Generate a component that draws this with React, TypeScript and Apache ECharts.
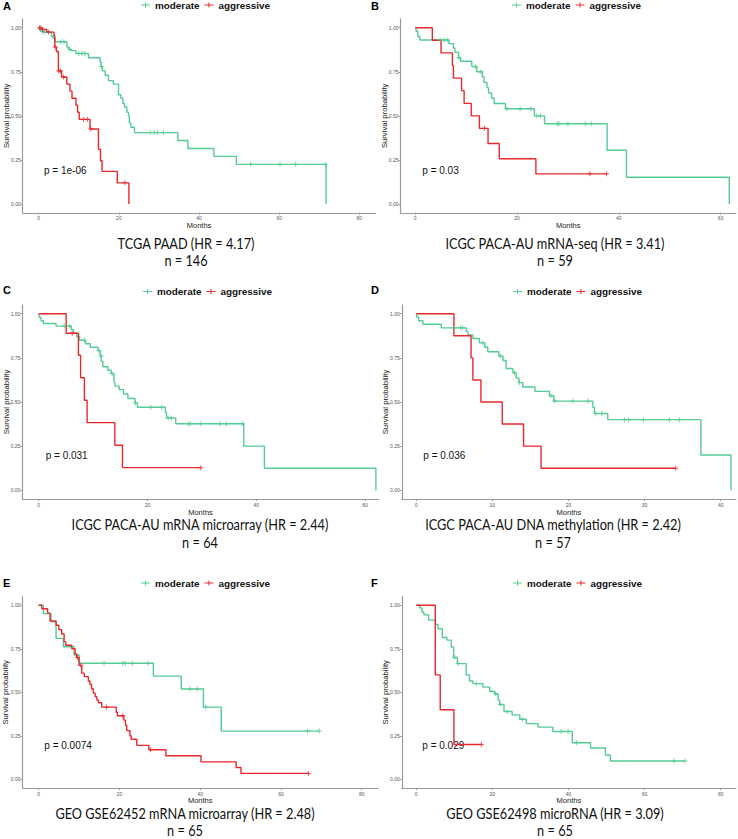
import React, { useEffect, useRef } from "react";
import * as echarts from "echarts";

const GREEN = "#55CC95";
const RED = "#E8292C";
const seriesNames = ["moderate", "aggressive"];
const yTicks = [0, 0.25, 0.5, 0.75, 1];

// ---------- A: TCGA PAAD ----------
const aTicks = [0, 20, 40, 60, 80];
const aModerate = [[0,1],[0.3,0.99],[0.8,0.98],[1.2,0.974],[3.2,0.95],[3.7,0.94],[4.1,0.92],[7.0,0.89],[7.5,0.877],[8.1,0.87],[9.3,0.854],[12.4,0.83],[15.3,0.805],[15.6,0.78],[15.9,0.755],[16.6,0.73],[17.4,0.70],[18.6,0.68],[19.9,0.62],[20.5,0.60],[21.0,0.57],[21.4,0.55],[22.0,0.52],[22.4,0.50],[22.6,0.46],[23.0,0.435],[23.9,0.405],[34.7,0.36],[37.2,0.315],[43.7,0.27],[49.3,0.225],[71.7,0.0]];
const aModerateCensor = [[0.5,0.99],[0.9,0.98],[1.5,0.974],[5.5,0.92],[6.3,0.92],[7.7,0.877],[10.0,0.854],[10.8,0.854],[11.5,0.854],[15.6,0.78],[27.8,0.405],[28.8,0.405],[29.6,0.405],[31.1,0.405],[52.9,0.225],[60.2,0.225],[64.1,0.225],[71.5,0.225]];
const aAggressive = [[0,1],[0.8,0.99],[2.0,0.975],[3.8,0.955],[4.0,0.89],[4.4,0.865],[4.9,0.755],[5.7,0.72],[7.0,0.68],[7.8,0.64],[8.3,0.60],[9.3,0.56],[9.7,0.52],[10.1,0.48],[12.8,0.425],[14.9,0.31],[15.4,0.245],[15.8,0.185],[19.6,0.12],[22.5,0.0]];
const aAggressiveCensor = [[0.2,1],[0.5,1],[1.0,0.99],[2.4,0.975],[4.1,0.89],[5.0,0.755],[5.4,0.755],[6.2,0.72],[11.2,0.48],[12.1,0.48],[13.0,0.425],[21.5,0.12]];

// ---------- B: ICGC PACA-AU mRNA-seq ----------
const bTicks = [0, 20, 40, 60];
const bModerate = [[0,1],[0.15,0.98],[0.5,0.95],[0.9,0.93],[6.6,0.91],[7.5,0.885],[7.8,0.86],[8.5,0.83],[8.9,0.81],[11.1,0.78],[12.1,0.75],[13.2,0.72],[13.5,0.69],[14.1,0.66],[14.4,0.63],[15.0,0.60],[15.5,0.57],[17.7,0.54],[23.4,0.50],[25.4,0.455],[37.7,0.305],[41.5,0.152],[61.7,0.0]];
const bModerateCensor = [[4.9,0.93],[5.65,0.93],[6.3,0.93],[8.6,0.83],[11.8,0.78],[12.9,0.75],[18.0,0.54],[20.6,0.54],[22.7,0.54],[23.9,0.50],[24.6,0.50],[27.9,0.455],[28.2,0.455],[30.0,0.455],[33.4,0.455],[34.6,0.455]];
const bAggressive = [[0,1],[3.35,0.929],[5.06,0.857],[7.3,0.786],[7.5,0.714],[9.1,0.643],[9.6,0.571],[11.0,0.50],[12.6,0.429],[14.3,0.343],[16.5,0.257],[23.7,0.171],[37.6,0.171]];
const bAggressiveCensor = [[13.6,0.429],[34.3,0.171],[37.6,0.171]];

// ---------- C: ICGC PACA-AU mRNA microarray ----------
const cTicks = [0, 20, 40, 60];
const cModerate = [[0,1],[0.12,0.98],[0.43,0.96],[0.86,0.945],[3.2,0.93],[6.0,0.91],[6.4,0.89],[7.0,0.87],[7.5,0.85],[8.6,0.83],[9.5,0.81],[10.9,0.79],[11.3,0.76],[11.5,0.73],[11.8,0.70],[12.7,0.68],[13.35,0.66],[13.85,0.61],[14.0,0.59],[14.8,0.57],[15.6,0.545],[16.4,0.52],[17.7,0.495],[18.15,0.47],[23.3,0.44],[23.5,0.41],[25.2,0.377],[37.7,0.25],[41.5,0.125],[62,0]];
const cModerateCensor = [[4.7,0.93],[5.7,0.93],[8.4,0.85],[11.1,0.79],[11.5,0.76],[13.5,0.66],[17.8,0.495],[20.6,0.47],[22.6,0.47],[23.8,0.41],[24.4,0.41],[27.5,0.377],[27.9,0.377],[29.8,0.377],[33.35,0.377],[34.5,0.377],[37.5,0.377]];
const cAggressive = [[0,1],[5.05,0.889],[7.3,0.765],[7.7,0.637],[8.4,0.51],[8.9,0.383],[14.0,0.255],[15.4,0.128],[29.8,0.128]];
const cAggressiveCensor = [[6.15,0.889],[29.8,0.128]];

// ---------- D: ICGC PACA-AU DNA methylation ----------
const dTicks = [0, 10, 20, 30, 40];
const dModerate = [[0,1],[0.09,0.98],[0.31,0.96],[0.88,0.94],[3.28,0.92],[6.56,0.90],[6.8,0.88],[7.44,0.86],[8.3,0.835],[9.0,0.81],[9.4,0.785],[10.85,0.76],[11.4,0.735],[11.8,0.69],[12.7,0.665],[13.13,0.635],[13.5,0.61],[14.0,0.585],[15.6,0.56],[17.5,0.535],[18.07,0.505],[23.2,0.47],[23.4,0.435],[25.16,0.40],[37.4,0.20],[41.36,0.0]];
const dModerateCensor = [[5.0,0.92],[5.8,0.92],[6.1,0.92],[8.75,0.835],[11.07,0.76],[12.9,0.665],[13.57,0.61],[17.7,0.535],[18.16,0.505],[20.57,0.505],[22.54,0.505],[23.6,0.435],[24.4,0.435],[27.35,0.40],[27.9,0.40],[29.85,0.40],[33.26,0.40],[34.57,0.40]];
const dAggressive = [[0,1],[4.95,0.875],[7.2,0.75],[7.44,0.625],[8.5,0.50],[11.3,0.375],[14.1,0.25],[16.4,0.125],[34.1,0.125]];
const dAggressiveCensor = [[34.1,0.125]];

// ---------- E: GEO GSE62452 mRNA microarray ----------
const eTicks = [0, 20, 40, 60, 80];
const eModerate = [[0,1],[1.16,0.952],[3.06,0.905],[4.3,0.81],[6.1,0.762],[8.75,0.714],[10.0,0.667],[28.4,0.593],[35.3,0.519],[40.8,0.415],[45.2,0.277],[69.5,0.277]];
const eModerateCensor = [[16.2,0.667],[20.8,0.667],[21.4,0.667],[23.2,0.667],[27.1,0.667],[37.5,0.519],[39.3,0.519],[41.3,0.415],[66.6,0.277],[69.5,0.277]];
const eAggressive = [[0,1],[0.75,0.98],[2.2,0.955],[2.8,0.91],[4.3,0.885],[5.0,0.86],[5.7,0.835],[6.3,0.79],[6.7,0.77],[8.2,0.75],[9.0,0.72],[9.4,0.70],[10.0,0.655],[10.65,0.61],[11.3,0.59],[12.3,0.565],[12.7,0.545],[13.1,0.52],[13.5,0.495],[14.0,0.475],[14.4,0.455],[14.8,0.44],[15.6,0.415],[19.2,0.385],[19.5,0.365],[21.1,0.34],[21.5,0.31],[21.8,0.28],[22.6,0.25],[22.9,0.23],[24.3,0.195],[27.3,0.17],[31.5,0.135],[40.2,0.10],[48.9,0.068],[50.1,0.034],[66.8,0.034]];
const eAggressiveCensor = [[9.6,0.70],[10.4,0.655],[16.8,0.415],[20.8,0.365],[27.7,0.17],[66.8,0.034]];

// ---------- F: GEO GSE62498 microRNA ----------
const fTicks = [0, 20, 40, 60, 80];
const fModerate = [[0,1],[0.88,0.985],[1.5,0.96],[2.0,0.945],[3.24,0.915],[5.0,0.89],[5.7,0.865],[6.84,0.815],[8.06,0.80],[9.2,0.76],[9.82,0.70],[10.8,0.665],[13.1,0.60],[14.0,0.565],[14.9,0.55],[17.5,0.53],[19.3,0.505],[20.6,0.49],[21.5,0.455],[21.9,0.43],[23.05,0.39],[25.2,0.37],[27.2,0.345],[28.9,0.32],[32.0,0.30],[35.9,0.275],[41.0,0.21],[45.8,0.18],[49.7,0.14],[51.0,0.105],[70.6,0.105]];
const fModerateCensor = [[10.1,0.70],[10.96,0.665],[15.8,0.55],[20.9,0.49],[22.1,0.43],[23.9,0.39],[27.9,0.345],[38.1,0.275],[39.9,0.275],[42.1,0.21],[67.7,0.105],[70.6,0.105]];
const fAggressive = [[0,1],[5.0,0.60],[6.3,0.40],[9.9,0.20],[17.1,0.20]];
const fAggressiveCensor = [[17.1,0.20]];

const letters = ["A", "B", "C", "D", "E", "F"];
const pValues = ["p = 1e-06", "p = 0.03", "p = 0.031", "p = 0.036", "p = 0.0074", "p = 0.029"];
const titles = [
  "TCGA PAAD (HR = 4.17)",
  "ICGC PACA-AU mRNA-seq (HR = 3.41)",
  "ICGC PACA-AU mRNA microarray (HR = 2.44)",
  "ICGC PACA-AU DNA methylation (HR = 2.42)",
  "GEO GSE62452 mRNA microarray (HR = 2.48)",
  "GEO GSE62498 microRNA (HR = 3.09)",
];
const sampleSizes = ["n = 146", "n = 59", "n = 64", "n = 57", "n = 65", "n = 65"];

const panelData = [
  { ticks: aTicks, mod: aModerate, modC: aModerateCensor, agg: aAggressive, aggC: aAggressiveCensor },
  { ticks: bTicks, mod: bModerate, modC: bModerateCensor, agg: bAggressive, aggC: bAggressiveCensor },
  { ticks: cTicks, mod: cModerate, modC: cModerateCensor, agg: cAggressive, aggC: cAggressiveCensor },
  { ticks: dTicks, mod: dModerate, modC: dModerateCensor, agg: dAggressive, aggC: dAggressiveCensor },
  { ticks: eTicks, mod: eModerate, modC: eModerateCensor, agg: eAggressive, aggC: eAggressiveCensor },
  { ticks: fTicks, mod: fModerate, modC: fModerateCensor, agg: fAggressive, aggC: fAggressiveCensor },
];

// layout (pixels / axis extents)
const layout = [
  { left: 22.7, top: 18.9, width: 352.7, height: 193.9, xmin: -4, xmax: 84, lx: 3, ly: 6, legL: 141, legY: 6.5, px: 44, py: 170, tx: 186, ty1: 243, ty2: 260, ylx: 6, my: 225.5 },
  { left: 400.5, top: 18.9, width: 335.4, height: 193.9, xmin: -2.9, xmax: 63, lx: 371, ly: 6, legL: 512, legY: 6.5, px: 422.3, py: 170.3, tx: 555, ty1: 243, ty2: 260, ylx: 384, my: 225.5 },
  { left: 22.4, top: 304.9, width: 356.2, height: 194.2, xmin: -3, xmax: 62.5, lx: 3, ly: 290, legL: 143, legY: 293, px: 45.7, py: 455.7, tx: 200, ty1: 524, ty2: 542, ylx: 6, my: 512 },
  { left: 401.8, top: 304.9, width: 334.1, height: 194.2, xmin: -1.9, xmax: 42, lx: 371, ly: 290, legL: 513, legY: 293, px: 423.3, py: 455.3, tx: 553, ty1: 524, ty2: 542, ylx: 385, my: 512 },
  { left: 22.55, top: 596.6, width: 355.3, height: 191.4, xmin: -4, xmax: 84, lx: 3, ly: 583, legL: 141, legY: 584.6, px: 44.3, py: 745, tx: 185, ty1: 813, ty2: 830.5, ylx: 5, my: 800.7 },
  { left: 401.8, top: 596.6, width: 334.1, height: 191.4, xmin: -3.8, xmax: 84, lx: 371, ly: 583, legL: 513, legY: 584.6, px: 422.3, py: 745.7, tx: 555, ty1: 813, ty2: 830.5, ylx: 385, my: 800.7 },
];

const PLUS = "path://M4,0H6V4H10V6H6V10H4V6H0V4H4Z";
const LEG_ICON = "path://M0,4H18V6H0ZM8,0H10V10H8Z";
const AXIS_COLOR = "#9A9A9A";
const SANS = "Liberation Sans, Arial, sans-serif";
const TITLE_FONT = "Lato, sans-serif";

export default function App() {
  const ref = useRef<HTMLDivElement>(null);
  useEffect(() => {
    if (!ref.current) return;
    const chart = echarts.init(ref.current, null, { renderer: "svg" });
    const grids: any[] = [];
    const xAxes: any[] = [];
    const yAxes: any[] = [];
    const series: any[] = [];
    const legends: any[] = [];
    const graphics: any[] = [];

    layout.forEach((L, i) => {
      const D = panelData[i];
      grids.push({ left: L.left, top: L.top, width: L.width, height: L.height, containLabel: false });
      xAxes.push({
        gridIndex: i, type: "value", min: L.xmin, max: L.xmax,
        splitLine: { show: false },
        axisLine: { show: true, onZero: false, lineStyle: { color: AXIS_COLOR, width: 1.2 } },
        axisTick: { show: true, length: 2, customValues: D.ticks, lineStyle: { color: AXIS_COLOR } },
        axisLabel: { customValues: D.ticks, fontSize: 5, color: "#555", margin: 3, fontFamily: SANS },
      });
      yAxes.push({
        gridIndex: i, type: "value", min: -0.05, max: 1.05,
        splitLine: { show: false },
        axisLine: { show: true, onZero: false, lineStyle: { color: AXIS_COLOR, width: 1.2 } },
        axisTick: { show: true, length: 2, customValues: yTicks, lineStyle: { color: AXIS_COLOR } },
        axisLabel: { customValues: yTicks, formatter: (v: number) => v.toFixed(2), fontSize: 5, color: "#555", margin: 2, fontFamily: SANS },
      });
      const curves = [
        { name: seriesNames[0], color: GREEN, line: D.mod, cens: D.modC, z: 2 },
        { name: seriesNames[1], color: RED, line: D.agg, cens: D.aggC, z: 3 },
      ];
      curves.forEach((c) => {
        series.push({
          type: "line", name: c.name, xAxisIndex: i, yAxisIndex: i, data: c.line, step: "end",
          symbol: "none", silent: true, z: c.z,
          lineStyle: { color: c.color, width: 1.4 }, itemStyle: { color: c.color },
        });
        series.push({
          type: "scatter", name: c.name, xAxisIndex: i, yAxisIndex: i, data: c.cens,
          symbol: PLUS, symbolSize: 5, silent: true, z: c.z + 2,
          itemStyle: { color: c.color },
        });
      });
      legends.push({
        left: L.legL, top: L.legY - 6.5, padding: 0, itemGap: 5, itemWidth: 9, itemHeight: 5,
        selectedMode: false,
        textStyle: { fontFamily: SANS, fontWeight: "bold", fontSize: 9.9, color: "#111" },
        data: [
          { name: seriesNames[0], icon: LEG_ICON, itemStyle: { color: GREEN } },
          { name: seriesNames[1], icon: LEG_ICON, itemStyle: { color: RED } },
        ],
      });
      graphics.push(
        { type: "text", x: L.lx, y: L.ly, style: { text: letters[i], fontFamily: SANS, fontWeight: "bold", fontSize: 11, fill: "#000", verticalAlign: "middle" } },
        { type: "text", x: L.px, y: L.py, style: { text: pValues[i], fontFamily: SANS, fontSize: 10, fill: "#111", verticalAlign: "middle" } },
        { type: "text", x: L.tx, y: L.ty1, scaleX: 0.85, style: { text: titles[i], fontFamily: TITLE_FONT, fontSize: 15, fill: "#111", align: "center", verticalAlign: "middle" } },
        { type: "text", x: L.tx, y: L.ty2, scaleX: 0.85, style: { text: sampleSizes[i], fontFamily: TITLE_FONT, fontSize: 15, fill: "#111", align: "center", verticalAlign: "middle" } },
        { type: "text", x: L.left + L.width / 2, y: L.my, style: { text: "Months", fontFamily: SANS, fontSize: 7.5, fill: "#222", align: "center", verticalAlign: "middle" } },
        { type: "text", x: L.ylx, y: L.top + L.height / 2, rotation: Math.PI / 2, style: { text: "Survival probability", fontFamily: SANS, fontSize: 7.7, fill: "#222", align: "center", verticalAlign: "middle" } },
      );
    });

    chart.setOption({
      animation: false,
      backgroundColor: "#fff",
      grid: grids,
      xAxis: xAxes,
      yAxis: yAxes,
      legend: legends,
      series,
      graphic: graphics,
    });
    return () => chart.dispose();
  }, []);
  return <div ref={ref} style={{ position: "fixed", left: 0, top: 0, width: 738, height: 839, background: "#fff" }} />;
}
